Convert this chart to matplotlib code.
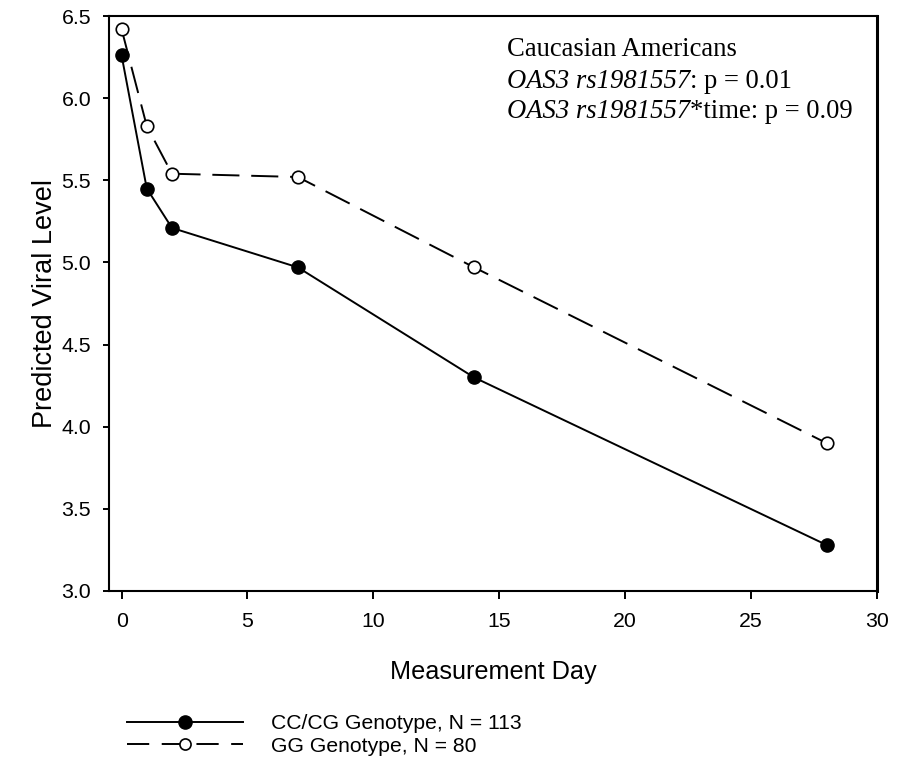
import matplotlib
matplotlib.use("Agg")
import matplotlib.pyplot as plt
from matplotlib.lines import Line2D

plt.rcParams['font.family'] = ['Liberation Sans', 'DejaVu Sans']
plt.rcParams['lines.scale_dashes'] = False

# Measurement days and model-predicted viral levels per genotype group
days = [0, 1, 2, 7, 14, 28]
cc_cg_level = [6.26, 5.45, 5.21, 4.97, 4.30, 3.28]
gg_level = [6.42, 5.83, 5.54, 5.52, 4.97, 3.90]

cc_cg_label = "CC/CG Genotype, N = 113"
gg_label = "GG Genotype, N = 80"

x_ticks = [0, 5, 10, 15, 20, 25, 30]
y_ticks = [3.0, 3.5, 4.0, 4.5, 5.0, 5.5, 6.0, 6.5]

fig = plt.figure(figsize=(9.01, 7.65), dpi=100)
ax = fig.add_axes([109 / 901, 1 - 591 / 765, (877 - 109) / 901, (591 - 16) / 765])

ax.plot(days, cc_cg_level, color='black', lw=1.4, marker='o', ms=9.5,
        mfc='black', mec='black', zorder=3)
ax.plot(days, gg_level, color='black', lw=1.4, dashes=[19.5, 8.5], marker='o',
        ms=9, mfc='white', mec='black', mew=1.2, zorder=3)

ax.set_xlim(-0.5, 30)
ax.set_ylim(3.0, 6.5)
ax.set_xticks(x_ticks)
ax.set_yticks(y_ticks)
ax.set_yticklabels([f"{v:.1f}" for v in y_ticks])
ax.tick_params(axis='x', direction='out', length=5.8, width=1.4, labelsize=15.3, pad=9.5)
ax.tick_params(axis='y', direction='out', length=4.3, width=1.4, labelsize=15.3, pad=8.6)
for side, sp in ax.spines.items():
    sp.set_linewidth(1.5 if side != 'right' else 2.2)

ax.set_xlabel("Measurement Day", fontsize=18.2)
ax.set_ylabel("Predicted Viral Level", fontsize=19.5)
ax.xaxis.set_label_coords(0.5, -0.12)
ax.yaxis.set_label_coords(-0.066, 0.5)

# Study annotation, serif with italic gene/SNP names
serif = ['Liberation Serif', 'DejaVu Serif']
ann_size = 19.2
tx = 507 / 901


def serif_line(y_px, parts):
    prev = None
    for text, style in parts:
        if prev is None:
            prev = fig.text(tx, 1 - y_px / 765, text, family=serif, style=style,
                            fontsize=ann_size, va='center')
        else:
            prev = ax.annotate(text, xy=(1, 0), xycoords=prev, va='bottom',
                               ha='left', family=serif, style=style,
                               fontsize=ann_size, annotation_clip=False)


serif_line(50, [("Caucasian Americans", 'normal')])
serif_line(81, [("OAS3 rs1981557", 'italic'), (": p = 0.01", 'normal')])
serif_line(112, [("OAS3 rs1981557", 'italic'), ("*time: p = 0.09", 'normal')])

handles = [
    Line2D([], [], color='black', lw=1.4, marker='o', ms=9.5, mfc='black', mec='black'),
    Line2D([], [], color='black', lw=1.4, dashes=[16, 9], marker='o', ms=8,
           mfc='white', mec='black', mew=1.2),
]
fig.legend(handles, [cc_cg_label, gg_label], loc='upper left',
           bbox_to_anchor=(119 / 901, 1 - 706 / 765), frameon=False,
           fontsize=15.2, handlelength=5.45, handletextpad=1.33,
           labelspacing=0.16, borderaxespad=0)

fig.savefig("out.png", dpi=100)
